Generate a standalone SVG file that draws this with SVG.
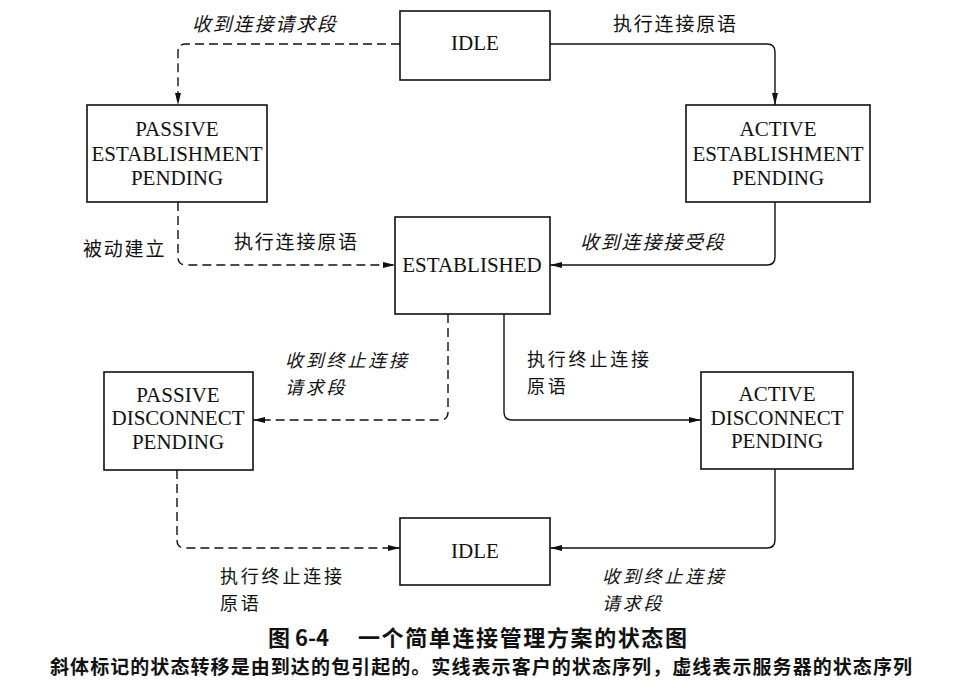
<svg xmlns="http://www.w3.org/2000/svg" width="960" height="691" viewBox="0 0 960 691">
<style>
.box{fill:#fff;stroke:#111;stroke-width:1.6}
.nt{font-family:"Liberation Serif","Times New Roman",serif;font-size:21px;fill:#111;text-anchor:middle}
.lb{font-family:"Noto Sans CJK SC",sans-serif;font-size:19px;letter-spacing:1.8px;fill:#111}
.lb2{font-size:18px;letter-spacing:2.8px}
.it{font-style:italic}
.c{fill:none;stroke:#111;stroke-width:1.4}
.d{stroke-dasharray:9 5}
.cap{font-family:"Noto Sans CJK SC",sans-serif;font-weight:bold;fill:#111}
</style>
<defs>
<marker id="ah" viewBox="0 0 12 6" refX="12" refY="3" markerWidth="12" markerHeight="6" markerUnits="userSpaceOnUse" orient="auto">
<path d="M0,0 L12,3 L0,6 Z" fill="#111"/>
</marker>
</defs>
<rect width="960" height="691" fill="#fff"/>
<g id="connectors">
<path class="c d" d="M400,44 H186 Q178,44 178,52 V105" marker-end="url(#ah)"/>
<path class="c" d="M550,44 H767 Q775,44 775,52 V105" marker-end="url(#ah)"/>
<path class="c d" d="M178,202 V257 Q178,265 186,265 H395" marker-end="url(#ah)"/>
<path class="c" d="M775,202 V257 Q775,265 767,265 H550" marker-end="url(#ah)"/>
<path class="c d" d="M448,314 V412 Q448,420 440,420 H253" marker-end="url(#ah)"/>
<path class="c" d="M504,314 V412 Q504,420 512,420 H701" marker-end="url(#ah)"/>
<path class="c d" d="M177,470 V540 Q177,548 185,548 H400" marker-end="url(#ah)"/>
<path class="c" d="M775,469 V540 Q775,548 767,548 H550" marker-end="url(#ah)"/>
</g>
<g id="idle-top">
<rect class="box" x="400" y="11" width="150" height="69"/>
<text class="nt" x="475" y="50">IDLE</text>
</g>
<g id="passive-est">
<rect class="box" x="87" y="105" width="180" height="97"/>
<text class="nt" x="177" y="136">PASSIVE</text>
<text class="nt" x="177" y="161">ESTABLISHMENT</text>
<text class="nt" x="177" y="185">PENDING</text>
</g>
<g id="active-est">
<rect class="box" x="686" y="105" width="184" height="97"/>
<text class="nt" x="778" y="136">ACTIVE</text>
<text class="nt" x="778" y="161">ESTABLISHMENT</text>
<text class="nt" x="778" y="185">PENDING</text>
</g>
<g id="established">
<rect class="box" x="395" y="217" width="155" height="97"/>
<text class="nt" x="472" y="272">ESTABLISHED</text>
</g>
<g id="passive-disc">
<rect class="box" x="104" y="372" width="149" height="98"/>
<text class="nt" x="178" y="402">PASSIVE</text>
<text class="nt" x="178" y="425">DISCONNECT</text>
<text class="nt" x="178" y="449">PENDING</text>
</g>
<g id="active-disc">
<rect class="box" x="701" y="372" width="152" height="97"/>
<text class="nt" x="777" y="401">ACTIVE</text>
<text class="nt" x="777" y="425">DISCONNECT</text>
<text class="nt" x="777" y="448">PENDING</text>
</g>
<g id="idle-bottom">
<rect class="box" x="400" y="518" width="150" height="67"/>
<text class="nt" x="475" y="558">IDLE</text>
</g>
<g id="labels">
<text class="lb it" x="192" y="31">收到连接请求段</text>
<text class="lb" x="613" y="31">执行连接原语</text>
<text class="lb" x="83" y="256">被动建立</text>
<text class="lb" x="234" y="249">执行连接原语</text>
<text class="lb it" x="580" y="249">收到连接接受段</text>
<text class="lb lb2 it" x="285" y="367">收到终止连接</text>
<text class="lb lb2 it" x="285" y="394">请求段</text>
<text class="lb lb2" x="527" y="366">执行终止连接</text>
<text class="lb lb2" x="527" y="393">原语</text>
<text class="lb lb2" x="220" y="583">执行终止连接</text>
<text class="lb lb2" x="220" y="610">原语</text>
<text class="lb lb2 it" x="602" y="583">收到终止连接</text>
<text class="lb lb2 it" x="602" y="610">请求段</text>
</g>
<g id="caption">
<text class="cap" x="268" y="646" font-size="22">图 6-4</text>
<text class="cap" x="358" y="646" font-size="22" textLength="329" lengthAdjust="spacing">一个简单连接管理方案的状态图</text>
<text class="cap" x="50" y="674" font-size="19" textLength="862" lengthAdjust="spacing">斜体标记的状态转移是由到达的包引起的。实线表示客户的状态序列，虚线表示服务器的状态序列</text>
</g>
</svg>
